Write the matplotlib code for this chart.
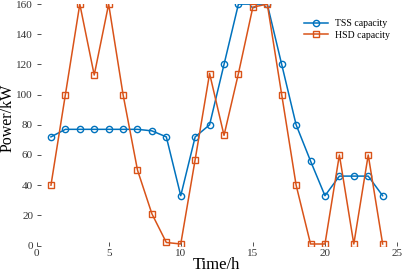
import numpy as np
import matplotlib
matplotlib.use("Agg")
import matplotlib.pyplot as plt

plt.rcParams['font.family'] = ['Liberation Serif', 'DejaVu Serif']

hours = list(range(1, 25))
tss_capacity = [72, 77, 77, 77, 77, 77, 77, 76, 72, 33, 72, 80,
                120, 160, 160, 160, 120, 80, 56, 33, 46, 46, 46, 33]
hsd_capacity = [40, 100, 160, 113, 160, 100, 50, 21, 2, 1, 57, 114,
                73, 114, 158, 160, 100, 40, 1, 1, 60, 1, 60, 1]
x_ticks = [0, 5, 10, 15, 20, 25]
y_ticks = [0, 20, 40, 60, 80, 100, 120, 140, 160]

fig = plt.figure(figsize=(4.06, 2.74), dpi=100)
ax = fig.add_axes([0.09, 0.104, 0.888, 0.881])

ax.plot(hours, tss_capacity, '-o', color='#0072BD', lw=1.1, ms=4.5,
        mfc='none', mew=1.0, label='TSS capacity')
ax.plot(hours, hsd_capacity, '-s', color='#D95319', lw=1.1, ms=4.5,
        mfc='none', mew=1.0, label='HSD capacity')

ax.set_xlim(0, 25)
ax.set_ylim(0, 160)
ax.set_xticks(x_ticks)
ax.set_yticks(y_ticks)
ax.tick_params(direction='in', length=3, width=0.6, labelsize=8, colors='#333333', pad=2.5)
for s in ax.spines.values():
    s.set_visible(False)

ax.set_xlabel('Time/h', fontsize=12, labelpad=-1)
ax.set_ylabel('Power/kW', fontsize=11.5)
ax.yaxis.set_label_coords(-0.058, 0.53)

leg = ax.legend(loc='upper right', bbox_to_anchor=(1.0, 0.965), frameon=False,
                fontsize=7, handlelength=2.4, labelspacing=0.25, borderaxespad=0.3)

fig.savefig('out.png', dpi=100)
